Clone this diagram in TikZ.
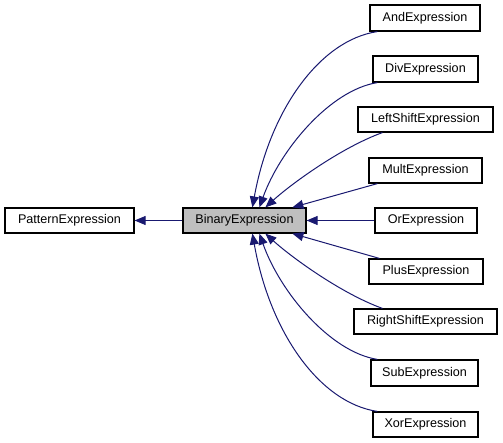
\documentclass[tikz,border=0pt]{standalone}
\usepackage{fontspec}
\setmainfont{Liberation Sans}
\usetikzlibrary{arrows.meta,calc}
\definecolor{edgeblue}{HTML}{191970}
\definecolor{boxgray}{HTML}{BFBFBF}
\begin{document}
\begin{tikzpicture}[x=1pt,y=-1pt,
  cls/.style={draw=black,line width=1.2pt,fill=white,inner sep=0pt,
    font=\fontsize{12.6}{14}\selectfont},
  arr/.style={draw=edgeblue,line width=1pt,-{Triangle[length=11pt,width=9pt]}}]
\useasboundingbox (0,0) rectangle (503,443);
\newcommand{\clsbox}[7]{%
  \node[cls,#6,minimum width={#4-#2},minimum height={#5-#3}] (#1) at ({(#2+#4)/2},{(#3+#5)/2}) {#7};}
\clsbox{pat}{5}{208}{134}{233}{}{PatternExpression}
\clsbox{bin}{183}{208}{306}{233}{fill=boxgray}{BinaryExpression}
\clsbox{and}{370}{5}{480}{31}{}{AndExpression}
\clsbox{div}{373}{56}{478}{82}{}{DivExpression}
\clsbox{lsh}{358}{107}{493}{132}{}{LeftShiftExpression}
\clsbox{mul}{369}{158}{482}{183}{}{MultExpression}
\clsbox{or}{375}{208}{477}{233}{}{OrExpression}
\clsbox{plu}{369}{259}{483}{284}{}{PlusExpression}
\clsbox{rsh}{354}{309}{497}{334}{}{RightShiftExpression}
\clsbox{sub}{371}{360}{478}{386}{}{SubExpression}
\clsbox{xor}{373}{412}{478}{437}{}{XorExpression}
% edges
\draw[arr] (bin.west) -- (pat.east);
\draw[arr] ($(and.south west)+(8,0)$) .. controls (320,40) and (270,110) .. ($(bin.north west)+(70,0)$);
\draw[arr] ($(div.south west)+(5,0)$) .. controls (330,90) and (280,150) .. ($(bin.north west)+(77,0)$);
\draw[arr] ($(lsh.south west)+(25,0)$) .. controls (340,148) and (290,185) .. ($(bin.north west)+(83,0)$);
\draw[arr] ($(mul.south west)+(9,0)$) -- ($(bin.north west)+(110,0)$);
\draw[arr] (or.west) -- (bin.east);
\draw[arr] ($(plu.north west)+(11,0)$) -- ($(bin.south west)+(110,0)$);
\draw[arr] ($(rsh.north west)+(29,0)$) .. controls (340,293) and (290,256) .. ($(bin.south west)+(83,0)$);
\draw[arr] ($(sub.north west)+(7,0)$) .. controls (330,352) and (280,292) .. ($(bin.south west)+(77,0)$);
\draw[arr] ($(xor.north west)+(5,0)$) .. controls (320,403) and (270,333) .. ($(bin.south west)+(70,0)$);
\end{tikzpicture}
\end{document}
